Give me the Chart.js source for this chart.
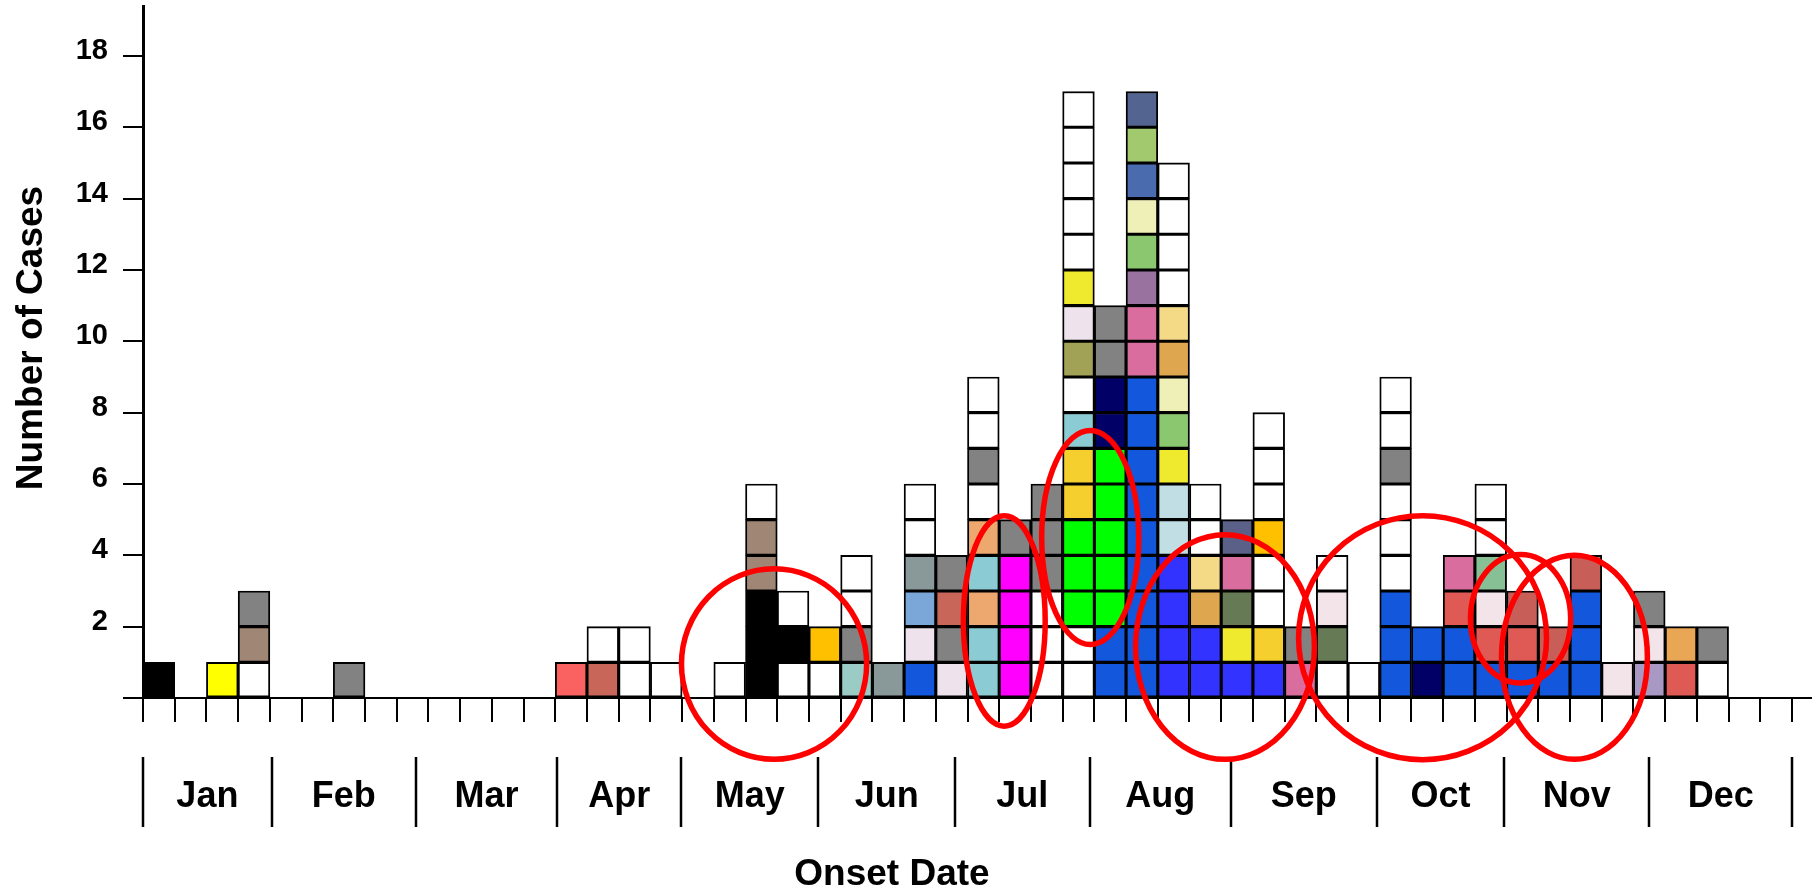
<!DOCTYPE html>
<html>
<head>
<meta charset="utf-8">
<script src="https://cdn.jsdelivr.net/npm/chart.js@4"></script>
<style>
  body { margin: 0; background: #fff; }
  canvas { display: block; }
</style>
</head>
<body>
<canvas id="epiCurve" width="1812" height="891"></canvas>
<script>
// Weekly onset counts (52 weeks) and the colour of each case, bottom to top
const weeks = Array.from({ length: 52 }, (_, i) => 'Week ' + (i + 1));
const weeklyCases = [
    1, 0, 1, 3, 0, 0, 1, 0, 0, 0, 0, 0, 0,
    1, 2, 2, 1, 0, 1, 6, 3, 2, 4, 1, 6, 4,
    9, 5, 6, 17, 11, 17, 15, 6, 5, 8, 2, 4, 1,
    9, 2, 4, 6, 3, 2, 4, 1, 3, 2, 2, 0, 0
];
const cellColors = [
    ['K'], [], ['Y'], ['W', 'BR', 'G'], [], [], ['G'], [], [], [], [], [], [],
    ['RD'], ['RB', 'W'], ['W', 'W'], ['W'], [], ['W'],
    ['K', 'K', 'K', 'BR', 'BR', 'W'], ['W', 'K', 'W'], ['W', 'OY'], ['TQ', 'G', 'W', 'W'], ['GG'],
    ['BL', 'LP', 'LB', 'GG', 'W', 'W'], ['LP', 'G', 'RB', 'G'],
    ['TC', 'TC', 'PC', 'TC', 'PC', 'W', 'G', 'W', 'W'],
    ['MG', 'MG', 'MG', 'MG', 'G'],
    ['W', 'W', 'W', 'G', 'G', 'G'],
    ['W', 'W', 'GR', 'GR', 'GR', 'GD', 'GD', 'TC', 'W', 'OL', 'LP', 'YL', 'W', 'W', 'W', 'W', 'W'],
    ['BL', 'BL', 'GR', 'GR', 'GR', 'GR', 'GR', 'NV', 'NV', 'G', 'G'],
    ['BL', 'BL', 'BL', 'BL', 'BL', 'BL', 'BL', 'BL', 'BL', 'PK', 'PK', 'PU', 'LG', 'PY', 'SB', 'AG', 'SL'],
    ['BB', 'BB', 'BB', 'BB', 'LBG', 'LBG', 'YL', 'LG', 'PY', 'OR', 'PG', 'W', 'W', 'W', 'W'],
    ['BB', 'BB', 'OR', 'PG', 'W', 'W'],
    ['BB', 'YL', 'DG', 'PK', 'SL2'],
    ['BB', 'GD', 'W', 'W', 'OY', 'W', 'W', 'W'],
    ['PK', 'G'],
    ['W', 'DG', 'LP2', 'W'],
    ['W'],
    ['BL', 'BL', 'BL', 'W', 'W', 'W', 'G', 'W', 'W'],
    ['NV', 'BL'],
    ['BL', 'BL', 'RE', 'PK'],
    ['BL', 'RE', 'LP2', 'MT', 'W', 'W'],
    ['BL', 'RE', 'RB2'],
    ['BL', 'RB2'],
    ['BL', 'BL', 'BL', 'RB2'],
    ['LP2'],
    ['LV', 'LP2', 'G'],
    ['RE', 'OA'],
    ['W', 'G'],
    [], []
];
const palette = {
    W: '#FFFFFF', K: '#000000', Y: '#FFFF00', BR: '#A08675', G: '#828282',
    RD: '#FA6262', RB: '#C8665A', OY: '#FFC000', TQ: '#9ACBC4', GG: '#899898',
    BL: '#1257DC', LP: '#EEE3EC', LB: '#7BA6D8', TC: '#8BCCD4', PC: '#EDA870',
    MG: '#FF00FF', GR: '#00FF00', GD: '#F5CF2E', OL: '#A2A256', YL: '#F0EA2E',
    NV: '#000066', PK: '#D96E9E', PU: '#9A72A0', LG: '#8AC76E', PY: '#EFF0B8',
    SB: '#4A6BAE', AG: '#A3C96F', SL: '#52648F', BB: '#3333FF', LBG: '#C0DEE3',
    OR: '#DFA650', PG: '#F4DA86', DG: '#667B55', SL2: '#5A6088', LP2: '#F2E4E8',
    RE: '#E05A55', MT: '#88C096', RB2: '#C85E58', LV: '#A898C4', OA: '#E9A655'
};

// y axis ticks and month bands (month edges in weeks from the start of the year)
const yTicks = [0, 2, 4, 6, 8, 10, 12, 14, 16, 18];
const months = ['Jan', 'Feb', 'Mar', 'Apr', 'May', 'Jun', 'Jul', 'Aug', 'Sep', 'Oct', 'Nov', 'Dec'];
const monthEdges = [0, 4.06, 8.6, 13.07, 16.97, 21.3, 25.6, 29.85, 34.3, 38.9, 42.93, 47.5, 52];

// red circles drawn over the curve: [centre week, centre cases, radius weeks, radius cases]
const highlights = [
    [19.9, 0.95, 2.92, 2.67],
    [27.16, 2.16, 1.29, 2.95],
    [29.87, 4.5, 1.53, 3.0],
    [34.12, 1.43, 2.82, 3.15],
    [40.35, 1.69, 3.91, 3.42],
    [43.44, 2.22, 1.58, 1.8],
    [45.14, 1.14, 2.3, 2.86]
];

const FONT = '"Liberation Sans", Arial, Helvetica, sans-serif';

const maxStack = Math.max(...weeklyCases);
const datasets = [];
for (let level = 0; level < maxStack; level++) {
    datasets.push({
        data: weeklyCases.map(n => (level < n ? 1 : null)),
        backgroundColor: cellColors.map(c => palette[c[level]] || '#FFFFFF'),
        borderColor: '#000000',
        borderWidth: 1.9,
        borderSkipped: false,
        stack: 'cases'
    });
}

// month row, axis titles, axis line extension and red circles
const annotations = {
    id: 'annotations',
    afterDatasetsDraw(chart) {
        const { ctx, scales: { x, y }, chartArea } = chart;
        const edgePx = w => x.getPixelForValue(w - 0.5);
        const weekPx = x.width / weeks.length;

        ctx.save();
        ctx.strokeStyle = '#000';
        ctx.lineWidth = 2;
        ctx.beginPath();
        ctx.moveTo(chartArea.right, chartArea.bottom);
        ctx.lineTo(chart.width, chartArea.bottom);
        ctx.stroke();

        ctx.lineWidth = 2.5;
        monthEdges.forEach(w => {
            const px = Math.round(edgePx(w));
            ctx.beginPath();
            ctx.moveTo(px, 757);
            ctx.lineTo(px, 827);
            ctx.stroke();
        });
        ctx.fillStyle = '#000';
        ctx.font = 'bold 36px ' + FONT;
        ctx.textAlign = 'center';
        ctx.textBaseline = 'middle';
        months.forEach((m, i) => {
            ctx.fillText(m, (edgePx(monthEdges[i]) + edgePx(monthEdges[i + 1])) / 2, 797);
        });
        ctx.font = 'bold 37px ' + FONT;
        ctx.fillText('Onset Date', 892, 875);

        ctx.save();
        ctx.translate(32, 338);
        ctx.rotate(-Math.PI / 2);
        ctx.font = 'bold 37px ' + FONT;
        ctx.fillText('Number of Cases', 0, 0);
        ctx.restore();

        ctx.strokeStyle = '#FF0000';
        ctx.lineWidth = 5.5;
        highlights.forEach(([cw, cc, rw, rc]) => {
            ctx.beginPath();
            ctx.ellipse(edgePx(cw), y.getPixelForValue(cc), rw * weekPx,
                y.getPixelForValue(0) - y.getPixelForValue(rc), 0, 0, Math.PI * 2);
            ctx.stroke();
        });
        ctx.restore();
    }
};

const ctx = document.getElementById('epiCurve').getContext('2d');
new Chart(ctx, {
    type: 'bar',
    data: { labels: weeks, datasets: datasets },
    options: {
        responsive: false,
        animation: false,
        devicePixelRatio: 1,
        layout: { padding: { top: 6, right: 20, left: 0, bottom: 0 } },
        plugins: { legend: { display: false }, tooltip: { enabled: false } },
        datasets: { bar: { categoryPercentage: 1, barPercentage: 1 } },
        scales: {
            x: {
                stacked: true,
                grid: { drawOnChartArea: false, drawTicks: true, tickLength: 24, color: '#000', lineWidth: 2, offset: true },
                border: { display: true, color: '#000', width: 2 },
                ticks: { display: false },
                afterFit(scale) {
                    scale.height = 193;
                    scale.paddingLeft = 0;
                    scale.paddingRight = 0;
                }
            },
            y: {
                stacked: true,
                min: 0,
                max: 19.4,
                afterBuildTicks(scale) { scale.ticks = yTicks.map(v => ({ value: v })); },
                grid: { drawOnChartArea: false, tickLength: 20, color: '#000', lineWidth: 2 },
                border: { display: true, color: '#000', width: 3 },
                ticks: {
                    color: '#000',
                    padding: 15,
                    labelOffset: -5,
                    font: { family: FONT, size: 29, weight: 'bold' },
                    callback: v => (v === 0 ? '' : v)
                },
                afterFit(scale) {
                    scale.width = 143;
                    scale.paddingTop = 0;
                    scale.paddingBottom = 0;
                }
            }
        }
    },
    plugins: [annotations]
});
</script>
</body>
</html>
